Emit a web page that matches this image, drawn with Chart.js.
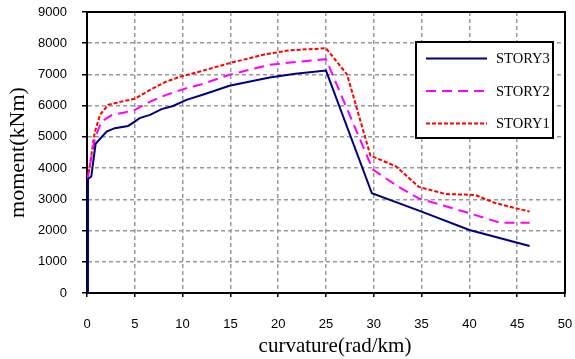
<!DOCTYPE html>
<html lang="en">
<head>
  <meta charset="utf-8">
  <title>moment-curvature</title>
  <style>
    * { margin:0; padding:0; box-sizing:border-box }
    body { background:#fff; }
    #wrap { width:575px; height:359px; position:relative; }
  </style>
</head>
<body>
  <div id="wrap"><canvas id="chart"></canvas></div>

  <script src="https://cdn.jsdelivr.net/npm/chart.js@4.4.1/dist/chart.umd.min.js"></script>
  <script>
    // values
    const story3X = [0, 0.1, 0.45, 0.9, 2.05, 2.9, 4.3, 5, 5.5, 6.6, 7.8, 9, 10.4, 12.1, 14.9, 19.1, 21.8, 25, 29.8, 35, 40, 46.3];
    const story3Y = [0, 3650, 3730, 4780, 5170, 5280, 5350, 5490, 5600, 5705, 5890, 5990, 6185, 6350, 6635, 6900, 7020, 7125, 3195, 2605, 2020, 1505];

    const story2X = [0, 0.1, 0.48, 0.83, 1.5, 2.6, 3.9, 5, 6.6, 8.3, 10.5, 11.8, 14.9, 19.1, 22.2, 25, 29.9, 32.6, 34.7, 40, 43.2, 46.3];
    const story2Y = [0, 3730, 4370, 4950, 5490, 5700, 5780, 5865, 6130, 6346, 6570, 6667, 6990, 7310, 7410, 7490, 3950, 3400, 3030, 2555, 2250, 2250];

    const story1X = [0, 0.1, 0.28, 0.8, 1.35, 2.2, 3.6, 5, 6.6, 8.3, 10, 11.8, 14.9, 18.4, 21.1, 25, 27.2, 29.65, 32.3, 34.7, 37.5, 40.6, 42.7, 46.3];
    const story1Y = [0, 3730, 4050, 5130, 5700, 6025, 6130, 6220, 6506, 6773, 6950, 7093, 7360, 7630, 7770, 7840, 7000, 4400, 4060, 3400, 3170, 3140, 2880, 2606];

    const xTicks = [0, 5, 10, 15, 20, 25, 30, 35, 40, 45, 50];
    const yTicks = [0, 1000, 2000, 3000, 4000, 5000, 6000, 7000, 8000, 9000];

    const xTitle = 'curvature(rad/km)';
    const yTitle = 'moment(kNm)';

    const toPoints = (xs, ys) => xs.map((x, i) => ({ x: x, y: ys[i] }));

    const serif = '"Liberation Serif", "Times New Roman", serif';
    const tickFont = { family: '"Liberation Sans", Arial, sans-serif', size: 13 };

    // keep the plot area where the picture has it: no extra room for edge labels
    function noEdgePadding(s) {
      s.paddingTop = 0; s.paddingBottom = 0;
      s.paddingLeft = 0; s.paddingRight = 0;
    }

    // black frame round the plot area
    const frame = {
      id: 'frame',
      beforeDatasetsDraw(chart) {
        const a = chart.chartArea, ctx = chart.ctx;
        ctx.save();
        ctx.strokeStyle = '#000';
        ctx.lineWidth = 2;
        ctx.strokeRect(a.left, a.top, a.right - a.left, a.bottom - a.top);
        ctx.restore();
      }
    };

    // x title sits a little right of the plot centre in the picture
    const xTitleText = {
      id: 'xTitleText',
      afterDraw(chart) {
        const a = chart.chartArea, ctx = chart.ctx;
        ctx.save();
        ctx.fillStyle = '#000';
        ctx.font = '21px ' + serif;
        ctx.textAlign = 'center';
        ctx.textBaseline = 'middle';
        ctx.fillText(xTitle, (a.left + a.right) / 2 + 9, a.bottom + 53);
        ctx.restore();
      }
    };

    // boxed legend inside the plot, as in the picture
    const legendBox = {
      id: 'legendBox',
      afterDatasetsDraw(chart) {
        const ctx = chart.ctx;
        const bx = 416, by = 42, bw = 137, bh = 96;
        ctx.save();
        ctx.fillStyle = '#fff';
        ctx.fillRect(bx, by, bw, bh);
        ctx.strokeStyle = '#000';
        ctx.lineWidth = 2;
        ctx.strokeRect(bx, by, bw, bh);
        chart.data.datasets.forEach((ds, i) => {
          const y = by + 16.5 + i * 32.5;
          ctx.setLineDash(ds.borderDash || []);
          ctx.strokeStyle = ds.borderColor;
          ctx.lineWidth = ds.borderWidth;
          ctx.beginPath();
          ctx.moveTo(bx + 10, y);
          ctx.lineTo(bx + 71, y);
          ctx.stroke();
          ctx.setLineDash([]);
          ctx.fillStyle = '#000';
          ctx.font = '14.5px ' + serif;
          ctx.textBaseline = 'middle';
          ctx.fillText(ds.label, bx + 80, y + 1);
        });
        ctx.restore();
      }
    };

    new Chart(document.getElementById('chart'), {
      type: 'line',
      data: {
        datasets: [
          { label: 'STORY3', data: toPoints(story3X, story3Y), borderColor: '#000080', borderWidth: 2, borderDash: [] },
          { label: 'STORY2', data: toPoints(story2X, story2Y), borderColor: '#FF00FF', borderWidth: 2, borderDash: [10, 6] },
          { label: 'STORY1', data: toPoints(story1X, story1Y), borderColor: '#FF0000', borderWidth: 2, borderDash: [4, 2] }
        ]
      },
      options: {
        responsive: true,
        maintainAspectRatio: false,
        animation: false,
        layout: { padding: { top: 12, right: 10, left: 0, bottom: 0 } },
        elements: { point: { radius: 0 }, line: { tension: 0, fill: false } },
        plugins: { legend: { display: false }, tooltip: { enabled: false } },
        scales: {
          x: {
            type: 'linear',
            min: 0, max: 50,
            afterBuildTicks: s => { s.ticks = xTicks.map(v => ({ value: v })); },
            afterFit: s => { s.height = 66; noEdgePadding(s); },
            ticks: { font: tickFont, color: '#000', padding: 20, maxRotation: 0, callback: v => String(v) },
            grid: { color: '#999', lineWidth: 1.5, tickLength: 4, tickColor: '#000', tickWidth: 1.5 },
            border: { color: '#000', width: 2, dash: [4, 3] }
          },
          y: {
            type: 'linear',
            min: 0, max: 9000,
            afterBuildTicks: s => { s.ticks = yTicks.map(v => ({ value: v })); },
            afterFit: s => { s.width = 87; noEdgePadding(s); },
            ticks: { font: tickFont, color: '#000', padding: 15, callback: v => String(v) },
            grid: { color: '#999', lineWidth: 1.5, tickLength: 5, tickColor: '#000', tickWidth: 1.5 },
            border: { color: '#000', width: 2, dash: [4, 3] },
            title: { display: true, text: yTitle, font: { family: serif, size: 22 }, color: '#000', padding: { top: 5, bottom: 0 } }
          }
        }
      },
      plugins: [frame, legendBox, xTitleText]
    });
  </script>
</body>
</html>
